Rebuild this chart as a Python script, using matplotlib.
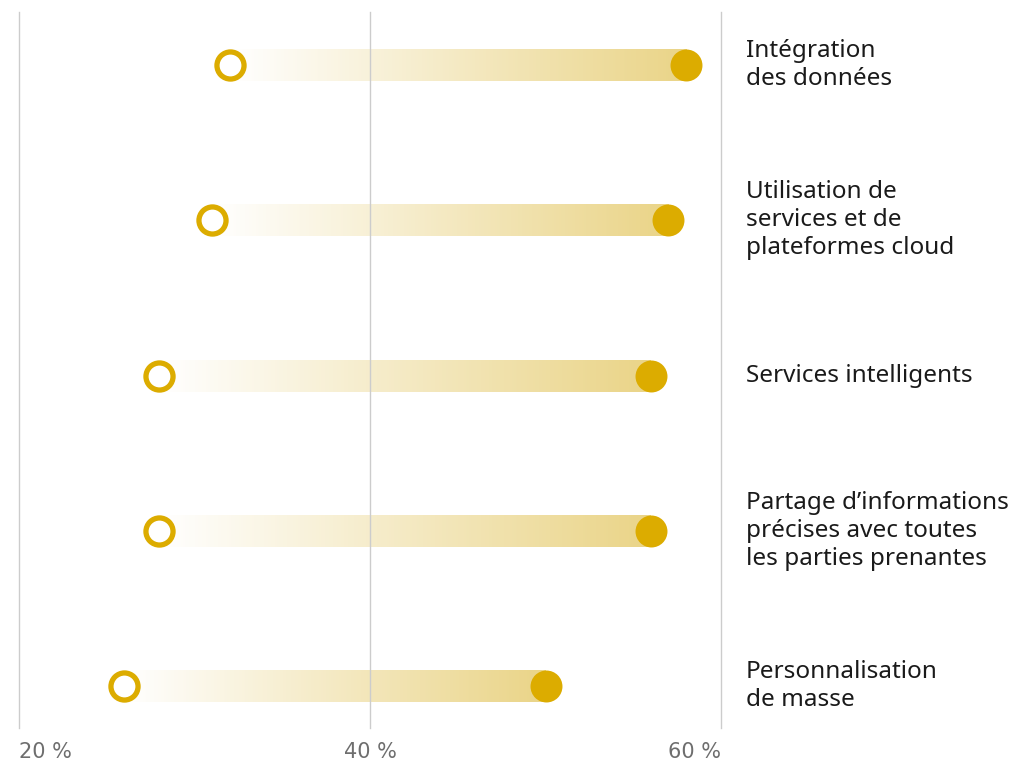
import numpy as np
from matplotlib import pyplot as plt

labels = ['Intégration\ndes données',
          'Utilisation de\nservices et de\nplateformes cloud',
          'Services intelligents',
          'Partage d\u2019informations\nprécises avec toutes\nles parties prenantes',
          'Personnalisation\nde masse']
start = [32, 31, 28, 28, 26]
end = [58, 57, 56, 56, 50]
ticks = [20, 40, 60]
tick_labels = ['20 %', '40 %', '60 %']

gold = '#dcac00'
fig = plt.figure(figsize=(10.15, 7.64), dpi=100)
ax = fig.add_axes([19/1015, 36/764, (721-19)/1015, (728-12)/764])
ax.set_xlim(20, 60)
ax.set_ylim(4.27, -0.341)

for t in ticks:
    ax.axvline(t, color='#cccccc', lw=1, zorder=3, clip_on=False)

# gradient bars
grad = np.zeros((1, 256, 4))
grad[..., 0] = 0.92
grad[..., 1] = 0.835
grad[..., 2] = 0.53
grad[..., 3] = np.linspace(0, 1, 256)
h = 0.103
for i, (s, e) in enumerate(zip(start, end)):
    ax.imshow(grad, extent=(s, e, i + h, i - h), aspect='auto',
              interpolation='bilinear', zorder=2)

y = np.arange(len(labels))
ax.plot(end, y, 'o', ms=23, color=gold, mew=0, zorder=4, clip_on=False)
ax.plot(start, y, 'o', ms=19.5, mfc='white', mec=gold, mew=3.8, zorder=4, clip_on=False)

for i, lab in enumerate(labels):
    ax.text(1.0355, i, lab, transform=ax.get_yaxis_transform(), ha='left', va='center',
            fontsize=17.5, family=['Noto Sans', 'DejaVu Sans'], color='#1a1a1a',
            linespacing=1.22)

for t, tl, ha in zip(ticks, tick_labels, ['left', 'center', 'right']):
    ax.annotate(tl, xy=(t, 0), xycoords=('data', 'figure fraction'),
                xytext=(0, 1 - 752/764), textcoords=('offset points', 'figure fraction'),
                ha=ha, va='center', fontsize=15, color='#6e6e6e',
                family=['Liberation Sans Narrow', 'DejaVu Sans'])

ax.set_xticks([])
ax.set_yticks([])
for sp in ax.spines.values():
    sp.set_visible(False)

fig.savefig('out.png', dpi=100)
